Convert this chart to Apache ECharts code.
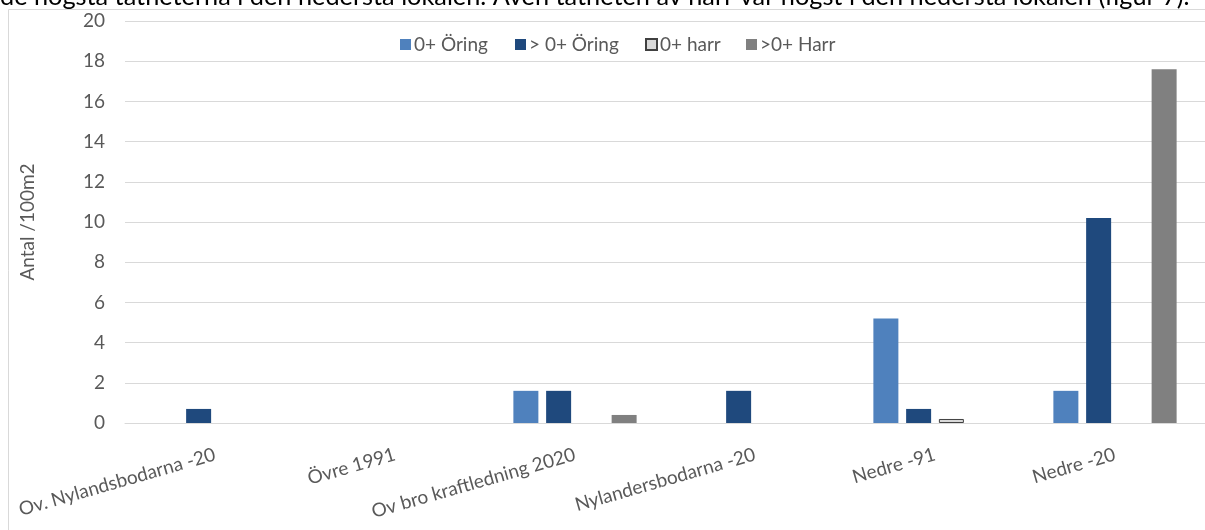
<!DOCTYPE html>
<html>
<head>
<meta charset="utf-8">
<script src="https://cdn.jsdelivr.net/npm/echarts@6/dist/echarts.min.js"></script>
<style>
html,body{margin:0;padding:0;background:#fff;}
#chart{width:1205px;height:530px;}
</style>
</head>
<body>
<div id="chart"></div>
<script>
const categories = ['Ov. Nylandsbodarna -20', 'Övre 1991', 'Ov bro kraftledning 2020', 'Nylandersbodarna -20', 'Nedre -91', 'Nedre -20'];
const seriesNames = ['0+ Öring', '> 0+ Öring', '0+ harr', '>0+ Harr'];
const oringYoung = [null, null, 1.6, null, 5.2, 1.6];
const oringOlder = [0.7, null, 1.6, 1.6, 0.7, 10.2];
const harrYoung = [null, null, null, null, 0.2, null];
const harrOlder = [null, null, 0.4, null, null, 17.6];
const yTicks = {min: 0, max: 20, interval: 2};
const yAxisName = 'Antal /100m2';
const headingText = 'de högsta tätheterna i den nedersta lokalen. Även tätheten av harr var högst i den nedersta lokalen (figur 7).';

const FONT = 'Lato';
const TXT = '#595959';
const colors = ['#4F81BD', '#1F497D', '#D9D9D9', '#808080'];

// fit heading font size to target width
const cv = document.createElement('canvas').getContext('2d');
let hs = 22;
cv.font = hs + 'px ' + FONT;
const w = cv.measureText(headingText).width;
hs = Math.max(14, Math.min(30, hs * 1190 / w));

const chart = echarts.init(document.getElementById('chart'), null, {renderer: 'canvas'});
const data = [oringYoung, oringOlder, harrYoung, harrOlder];
const legendLeft = [400, 515, 645, 746];

const option = {
  backgroundColor: '#ffffff',
  animation: false,
  textStyle: {fontFamily: FONT},
  grid: {left: 125, right: -3, top: 21, bottom: 107},
  legend: seriesNames.map((n, i) => ({
    data: [n], left: legendLeft[i], top: 35, padding: 0,
    itemWidth: 11, itemHeight: 11, itemGap: 0,
    icon: 'rect',
    textStyle: {fontFamily: FONT, fontSize: 19, color: TXT, padding: [0, 0, 0, -2]}
  })),
  xAxis: {
    type: 'category',
    data: categories,
    axisTick: {show: false},
    axisLine: {lineStyle: {color: '#D9D9D9', width: 1}},
    axisLabel: {rotate: 16, margin: 31, interval: 0, fontSize: 19, color: TXT, fontFamily: FONT}
  },
  yAxis: {
    type: 'value',
    min: yTicks.min, max: yTicks.max, interval: yTicks.interval,
    name: yAxisName, nameLocation: 'middle', nameGap: 88, nameRotate: 90,
    nameTextStyle: {fontSize: 19, color: TXT, fontFamily: FONT},
    axisLine: {show: false}, axisTick: {show: false},
    axisLabel: {margin: 20, fontSize: 19, color: TXT, fontFamily: FONT},
    splitLine: {lineStyle: {color: '#D9D9D9', width: 1}}
  },
  series: seriesNames.map((n, i) => ({
    name: n, type: 'bar', data: data[i],
    barWidth: 25, barGap: '31%',
    itemStyle: i === 2 ? {color: colors[i], borderColor: '#404040', borderWidth: 1} : {color: colors[i]}
  })),
  graphic: [
    {type: 'rect', silent: true, z: -1, shape: {x: 8.5, y: 9.5, width: 1300, height: 600},
     style: {fill: 'none', stroke: '#D9D9D9', lineWidth: 1}},
    {type: 'text', x: 0, y: 9, silent: true,
     style: {text: headingText, font: hs.toFixed(1) + 'px ' + FONT, fill: '#000', align: 'left', verticalAlign: 'bottom'}}
  ]
};
chart.setOption(option);
</script>
</body>
</html>
